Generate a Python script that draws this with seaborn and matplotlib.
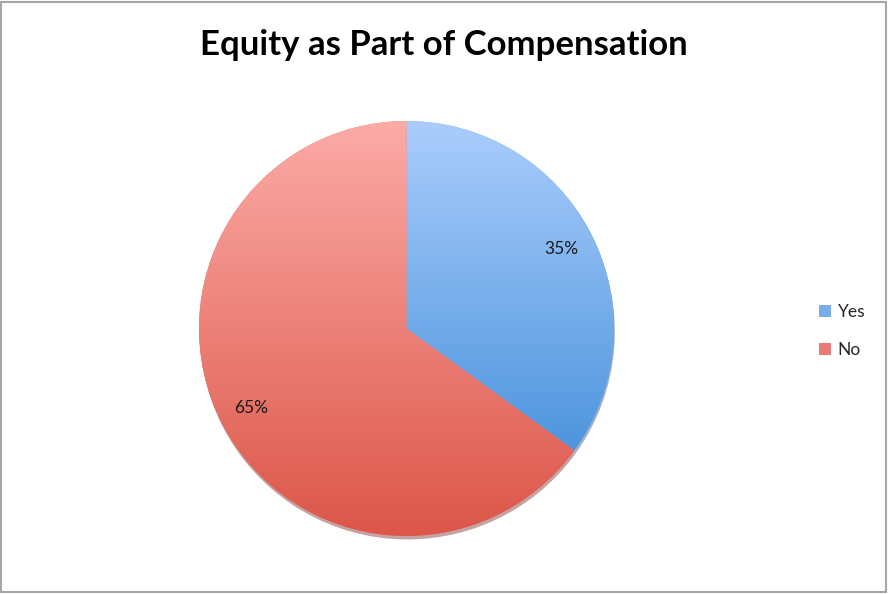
import numpy as np
import matplotlib
matplotlib.use("Agg")
import matplotlib.pyplot as plt
import seaborn as sns
from matplotlib.colors import LinearSegmentedColormap
from matplotlib.patches import Patch, Rectangle

categories = ["Yes", "No"]
values = [35, 65]
top_colors = ["#abcdfc", "#fcaba7"]
bottom_colors = ["#4e95dd", "#dc5649"]
legend_colors = ["#79acea", "#ea7a74"]
title = "Equity as Part of Compensation"

sns.set_theme(style="white")
plt.rcParams['font.family'] = ['Lato', 'DejaVu Sans']

fig = plt.figure(figsize=(8.89, 5.94), dpi=100)
fig.patch.set_facecolor("white")
ax = fig.add_axes([199/889, 58/594, 415/889, 415/594])

wedges, texts, autotexts = ax.pie(
    values, startangle=90, counterclock=False,
    colors=legend_colors, autopct='%1.0f%%', pctdistance=0.84,
    textprops=dict(fontsize=12.5, color='#1a1a1a'),
    wedgeprops=dict(linewidth=0),
    shadow={'ox': 0.003, 'oy': -0.012, 'shade': 0.4},
)

for w, c0, c1 in zip(wedges, top_colors, bottom_colors):
    ext = w.get_path().get_extents()
    cmap = LinearSegmentedColormap.from_list("g", [c1, c0])
    grad = np.linspace(0, 1, 256).reshape(-1, 1)
    im = ax.imshow(grad, cmap=cmap, origin='lower', aspect='auto',
                   extent=[ext.x0, ext.x1, ext.y0, ext.y1], zorder=2,
                   interpolation='bilinear')
    im.set_clip_path(w)

for t in autotexts:
    t.set_zorder(5)

ax.set_xlim(-1, 1)
ax.set_ylim(-1, 1)
ax.set_aspect('equal')
ax.axis('off')

handles = [Patch(facecolor=c, edgecolor='none', label=l) for c, l in zip(legend_colors, categories)]
fig.legend(handles=handles, loc='center left', bbox_to_anchor=(803/889, (594-331)/594),
           frameon=False, fontsize=12.5, handlelength=0.7, handleheight=0.7,
           handletextpad=0.4, labelspacing=1.3)

fig.text(444/889, (594-45)/594, title, ha='center', va='center',
         fontsize=25, fontweight='bold', color='black')

fig.patches.append(Rectangle((1/889, 2/594), 885/889, 590/594, transform=fig.transFigure,
                             fill=False, edgecolor='#a6a6a6', linewidth=1.5))

fig.savefig("out.png", dpi=100)
